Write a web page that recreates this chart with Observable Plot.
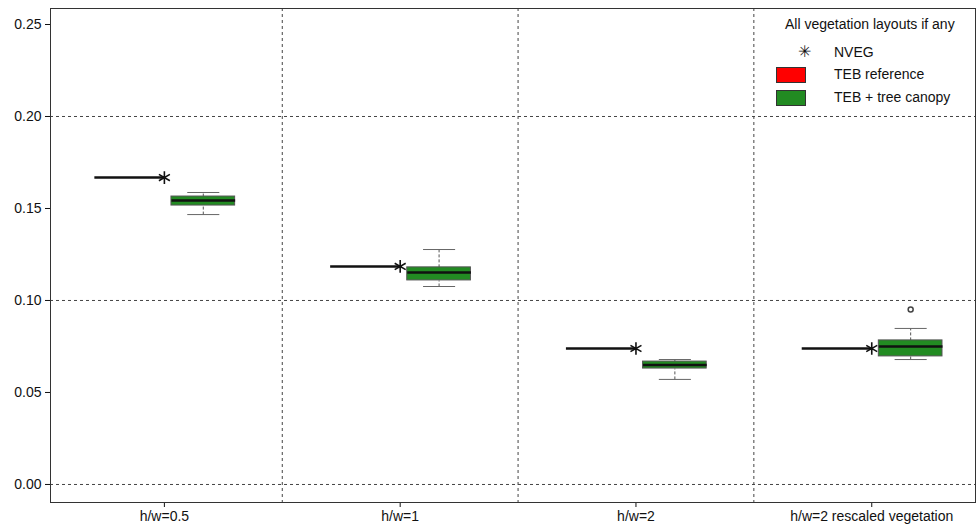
<!DOCTYPE html>
<html><head><meta charset="utf-8">
<script src="https://cdn.jsdelivr.net/npm/d3@7"></script>
<script src="https://cdn.jsdelivr.net/npm/@observablehq/plot@0.6"></script>
<style>
body{margin:0;font-family:"Liberation Sans",Arial,sans-serif;background:#fff}
#wrap{position:relative;width:976px;height:528px}
#legend{position:absolute;left:760px;top:14px;font-size:14px;color:#111}
#legend .it{position:absolute;white-space:nowrap}
</style></head>
<body><div id="wrap"><div id="chart"></div>
<div id="legend">
<div class="it" style="left:25px;top:2px">All vegetation layouts if any</div>
<div class="it" style="left:38px;top:28px;font-size:16px">✳</div>
<div class="it" style="left:74px;top:30px">NVEG</div>
<div class="it" style="left:16px;top:53px;width:28px;height:14px;background:#ff0000;border:1px solid #333"></div>
<div class="it" style="left:74px;top:52px">TEB reference</div>
<div class="it" style="left:16px;top:76px;width:28px;height:14px;background:#228b22;border:1px solid #333"></div>
<div class="it" style="left:74px;top:75px">TEB + tree canopy</div>
</div></div>
<script>
const groups = ['h/w=0.5', 'h/w=1', 'h/w=2', 'h/w=2 rescaled vegetation'];
const nveg = [0.1668, 0.1185, 0.0739, 0.0739];
const q1 = [0.1516, 0.1109, 0.0630, 0.0696];
const med = [0.1543, 0.1152, 0.0649, 0.0750];
const q3 = [0.1565, 0.1180, 0.0668, 0.0783];
const wLo = [0.1467, 0.1076, 0.0571, 0.0679];
const wHi = [0.1587, 0.1277, 0.0679, 0.0848];
const outliers = [{g: 4, v: 0.0951}];

const off = 0.165, hw = 0.135, cap = 0.068;
const rows = groups.map((g, i) => ({
  x: i + 1, nveg: nveg[i], q1: q1[i], med: med[i], q3: q3[i], lo: wLo[i], hi: wHi[i]
}));

const chart = Plot.plot({
  width: 976, height: 528,
  marginLeft: 50, marginRight: 1, marginTop: 8, marginBottom: 26,
  style: {fontFamily: '"Liberation Sans", Arial, sans-serif', fontSize: '14px', color: '#111'},
  x: {domain: [0.517, 4.44], ticks: [1, 2, 3, 4], tickFormat: d => groups[d - 1], label: null, tickSize: 5},
  y: {domain: [-0.0098, 0.2587], ticks: d3.range(0, 0.2501, 0.05), tickFormat: d3.format('.2f'), label: null, tickSize: 5},
  marks: [
    Plot.ruleY([0, 0.1, 0.2], {stroke: '#444', strokeDasharray: '3,3'}),
    Plot.ruleX([1.5, 2.5, 3.5], {stroke: '#444', strokeDasharray: '3,3'}),
    Plot.frame({stroke: '#333'}),
    // TEB reference (degenerate box)
    Plot.link(rows, {x1: d => d.x - 0.297, x2: d => d.x, y1: 'nveg', y2: 'nveg', stroke: '#111', strokeWidth: 2.5}),
    Plot.dot(rows, {x: 'x', y: 'nveg', symbol: 'asterisk', r: 6, stroke: '#111', strokeWidth: 1.6}),
    // whiskers
    Plot.link(rows, {x1: d => d.x + off, x2: d => d.x + off, y1: 'lo', y2: 'q1', stroke: '#555', strokeDasharray: '3,2'}),
    Plot.link(rows, {x1: d => d.x + off, x2: d => d.x + off, y1: 'q3', y2: 'hi', stroke: '#555', strokeDasharray: '3,2'}),
    Plot.link(rows, {x1: d => d.x + off - cap, x2: d => d.x + off + cap, y1: 'lo', y2: 'lo', stroke: '#666'}),
    Plot.link(rows, {x1: d => d.x + off - cap, x2: d => d.x + off + cap, y1: 'hi', y2: 'hi', stroke: '#666'}),
    Plot.rect(rows, {x1: d => d.x + off - hw, x2: d => d.x + off + hw, y1: 'q1', y2: 'q3', fill: '#228b22', stroke: '#555'}),
    Plot.link(rows, {x1: d => d.x + off - hw, x2: d => d.x + off + hw, y1: 'med', y2: 'med', stroke: '#111', strokeWidth: 2.5}),
    Plot.dot(outliers, {x: d => d.g + off, y: 'v', r: 2.5, stroke: '#444'})
  ]
});
document.getElementById('chart').append(chart);
</script></body></html>
